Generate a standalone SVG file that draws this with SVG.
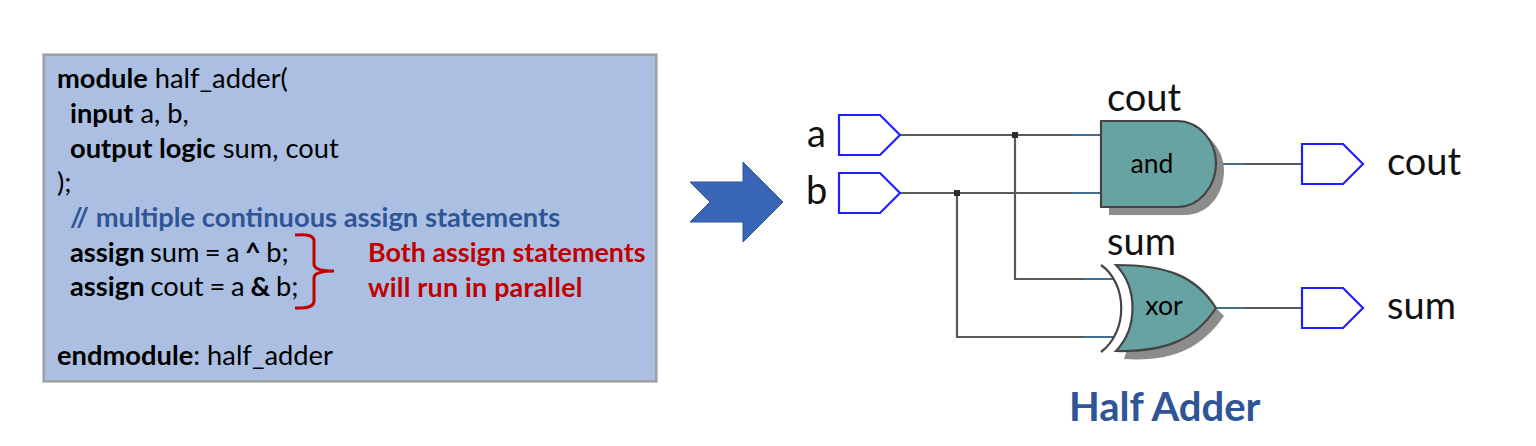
<svg xmlns="http://www.w3.org/2000/svg" width="1536" height="446" viewBox="0 0 1536 446">
<style>
text{font-family:Lato,"Open Sans","Liberation Sans",sans-serif;fill:#000}
.c{font-size:27.3px}
.b{font-weight:700}
.blue{fill:#2f5597;font-weight:700}
.red{fill:#c00000;font-weight:700;font-size:26.9px}
.lab{font-size:38px;fill:#111}
.gt{font-size:26.5px;text-anchor:middle}
.port{fill:#fff;stroke:#1f1fff;stroke-width:2.2}
.wire{fill:none;stroke:#5a5a5a;stroke-width:2.2}
.tail{fill:none;stroke:#3f6f92;stroke-width:2.2}
.gate{fill:#68a3a3;stroke:#444;stroke-width:2.2}
.shadow{fill:#8c8c8c}
</style>
<g id="code-box">
<rect x="42.5" y="53.5" width="615" height="329" fill="#fff" stroke="#c8c8c8" stroke-width="1"/>
<rect x="44" y="55" width="612" height="326" fill="#abbfe2" stroke="#a0a0a0" stroke-width="2"/>
<text class="c" x="57" y="88"><tspan class="b">module</tspan> half_adder(</text>
<text class="c" x="70" y="123"><tspan class="b">input</tspan> a, b,</text>
<text class="c" x="70" y="158"><tspan class="b">output logic</tspan> sum, cout</text>
<text class="c" x="57" y="192">);</text>
<text class="c blue" x="70" y="227">// multiple continuous assign statements</text>
<text class="c" x="70" y="262" word-spacing="-1.6"><tspan class="b">assign</tspan> sum = a <tspan class="b">^</tspan> b;</text>
<text class="c" x="70" y="296" word-spacing="-1.2"><tspan class="b">assign</tspan> cout = a <tspan class="b">&amp;</tspan> b;</text>
<text class="c" x="57" y="365"><tspan class="b">endmodule</tspan>: half_adder</text>
<path d="M295 235Q315 233 314 242V264Q314 271 334 271Q314 271 314 278V300Q315 309 295 308" fill="none" stroke="#c00000" stroke-width="3"/>
<text class="red" x="368" y="262">Both assign statements</text>
<text class="red" x="368" y="297" letter-spacing="0.2">will run in parallel</text>
</g>
<g id="arrow">
<polygon points="690,182 743,182 743,162 783,202 743,242 743,222 690,222 710,202" fill="#3a66b8" stroke="#2f5597" stroke-width="1"/>
</g>
<g id="connectors">
<path class="wire" d="M900 135H1072M900 193H1072M1015 135V279H1085M957 193V337H1085M1243 164H1302M1243 308H1302"/>
<path class="tail" d="M1072 135H1101M1072 193H1101M1085 279H1113M1085 337H1113M1216 164H1243M1216 308H1243"/>
<rect x="1012" y="132" width="6" height="6" fill="#2b2b2b"/>
<rect x="954" y="190" width="6" height="6" fill="#2b2b2b"/>
</g>
<g id="port-a">
<polygon class="port" points="839,115 880,115 900,135 880,155 839,155"/>
<text class="lab" x="807" y="147">a</text>
</g>
<g id="port-b">
<polygon class="port" points="839,173 880,173 900,193 880,213 839,213"/>
<text class="lab" x="806" y="204">b</text>
</g>
<g id="gate-and">
<path class="shadow" d="M1109 129H1185C1208 129 1224 150 1224 171C1224 194 1208 215 1185 215H1109Z"/>
<path class="gate" d="M1101 121H1177C1200 121 1216 142 1216 163C1216 186 1200 207 1177 207H1101Z"/>
<text class="gt" x="1152" y="173">and</text>
<text class="lab" x="1107" y="111">cout</text>
</g>
<g id="gate-xor">
<path class="shadow" d="M1124 359C1170 362 1200 350 1224 316L1216 308L1130 340Z"/>
<path d="M1101 265C1128 284 1128 332 1101 352" fill="none" stroke="#444" stroke-width="2.2"/>
<path class="gate" d="M1116 265C1165 265 1195 275 1216 308C1195 340 1165 352 1116 351C1138 328 1138 288 1116 265Z"/>
<text class="gt" x="1164" y="315">xor</text>
<text class="lab" x="1107" y="255">sum</text>
</g>
<g id="port-cout">
<polygon class="port" points="1302,144 1343,144 1363,164 1343,184 1302,184"/>
<text class="lab" x="1387" y="175">cout</text>
</g>
<g id="port-sum">
<polygon class="port" points="1302,288 1343,288 1363,308 1343,328 1302,328"/>
<text class="lab" x="1387" y="319">sum</text>
</g>
<g id="title">
<text x="1069" y="421" font-size="40" class="blue">Half Adder</text>
</g>
</svg>
